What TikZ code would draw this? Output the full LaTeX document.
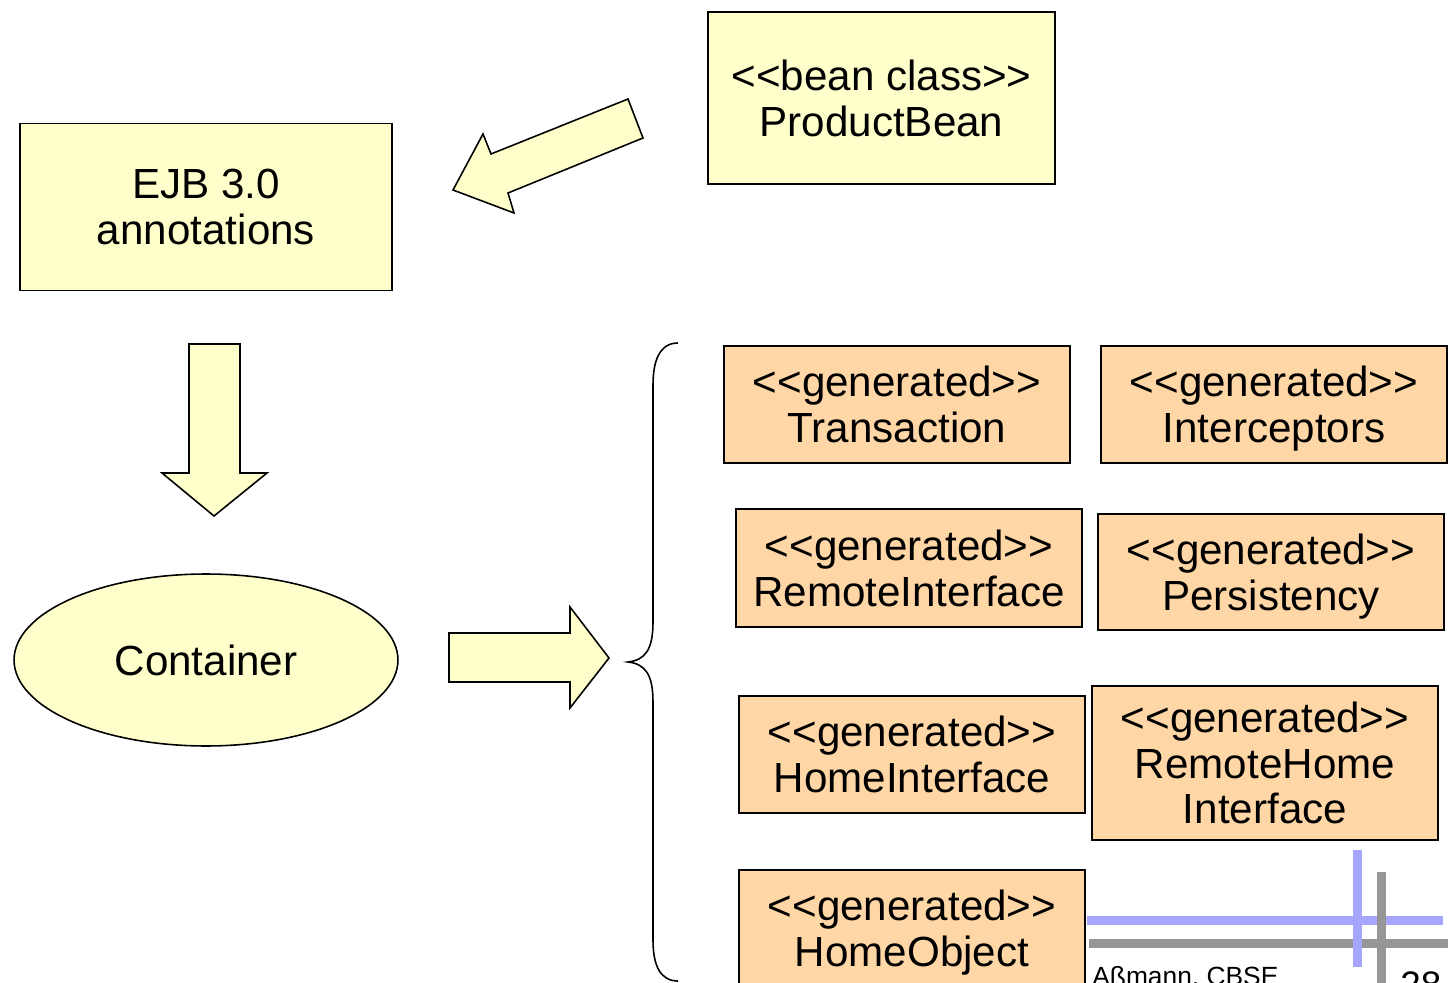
\documentclass[tikz,border=0pt]{standalone}
\usepackage{fontspec}
\setmainfont{Liberation Sans}[Ligatures=TeXOff]
\usetikzlibrary{shapes.geometric}
\definecolor{beanyellow}{HTML}{FFFFCC}
\definecolor{genorange}{HTML}{FFD6A5}
\definecolor{barblue}{HTML}{A6A6FF}
\definecolor{bargray}{HTML}{969696}
\tikzset{
	box/.style={draw=black, line width=0.9pt, align=center, inner sep=0pt,
		text depth=0pt, font=\fontsize{24}{26}\selectfont},
	beanbox/.style={box, fill=beanyellow},
	genbox/.style={box, fill=genorange, minimum width=6.92cm, minimum height=2.34cm},
	blockarrow/.style={draw=black, line width=0.9pt, fill=beanyellow, line join=miter},
}
\begin{document}
\begin{tikzpicture}[x=0.02cm, y=-0.02cm]
	\useasboundingbox (0, 0) rectangle (1448, 983);
	\clip (0, 0) rectangle (1448, 983);
	% Footer bars.
	\draw[barblue, line width=0.18cm] (1087, 920) -- (1443, 920);
	\draw[bargray, line width=0.18cm] (1089, 943) -- (1448, 943);
	\draw[barblue, line width=0.18cm] (1357, 850) -- (1357, 967);
	\draw[bargray, line width=0.18cm] (1381, 872) -- (1381, 990);
	\node[anchor=base west, inner sep=0pt, font=\fontsize{15}{15}\selectfont]
		(author) at (1092, 985) {Aßmann, CBSE};
	\node[anchor=base west, inner sep=0pt, font=\fontsize{21}{21}\selectfont]
		(page) at (1400, 997) {28};
	% Input side.
	\node[beanbox, minimum width=6.94cm, minimum height=3.44cm]
		(bean) at (881.5, 98) {<<bean class>>\\ProductBean};
	\node[beanbox, minimum width=7.44cm, minimum height=3.34cm]
		(annot) at (206, 207) {EJB 3.0\\annotations};
	\node[beanbox, ellipse, minimum width=7.68cm, minimum height=3.44cm]
		(container) at (206, 660) {Container};
	% Block arrows.
	\draw[blockarrow] (628, 99) -- (643, 138) -- (508, 193) -- (514, 213)
		-- (453, 190) -- (483, 134) -- (491, 154) -- cycle;
	\draw[blockarrow] (189, 344) -- (240, 344) -- (240, 473) -- (267, 473)
		-- (214, 516) -- (162, 473) -- (189, 473) -- cycle;
	\draw[blockarrow] (449, 633) -- (570, 633) -- (570, 607) -- (609, 658)
		-- (570, 708) -- (570, 682) -- (449, 682) -- cycle;
	% Brace.
	\draw[line width=0.9pt] (678, 343) .. controls (660, 343) and (653, 360) .. (653, 385)
		-- (653, 622) .. controls (653, 650) and (645, 660) .. (628, 662)
		.. controls (645, 664) and (653, 674) .. (653, 702)
		-- (653, 940) .. controls (653, 965) and (660, 981) .. (678, 981);
	% Generated artefacts.
	\node[genbox] (trans) at (897, 404.5) {<<generated>>\\Transaction};
	\node[genbox] (inter) at (1274, 404.5) {<<generated>>\\Interceptors};
	\node[genbox, minimum height=2.36cm] (remote) at (909, 568) {<<generated>>\\RemoteInterface};
	\node[genbox, minimum height=2.32cm] (persist) at (1271, 572) {<<generated>>\\Persistency};
	\node[genbox] (home) at (912, 754.5) {<<generated>>\\HomeInterface};
	\node[genbox, minimum height=3.08cm] (remotehome) at (1265, 763)
		{<<generated>>\\RemoteHome\\Interface};
	\node[genbox] (homeobj) at (912, 928.5) {<<generated>>\\HomeObject};
\end{tikzpicture}
\end{document}
